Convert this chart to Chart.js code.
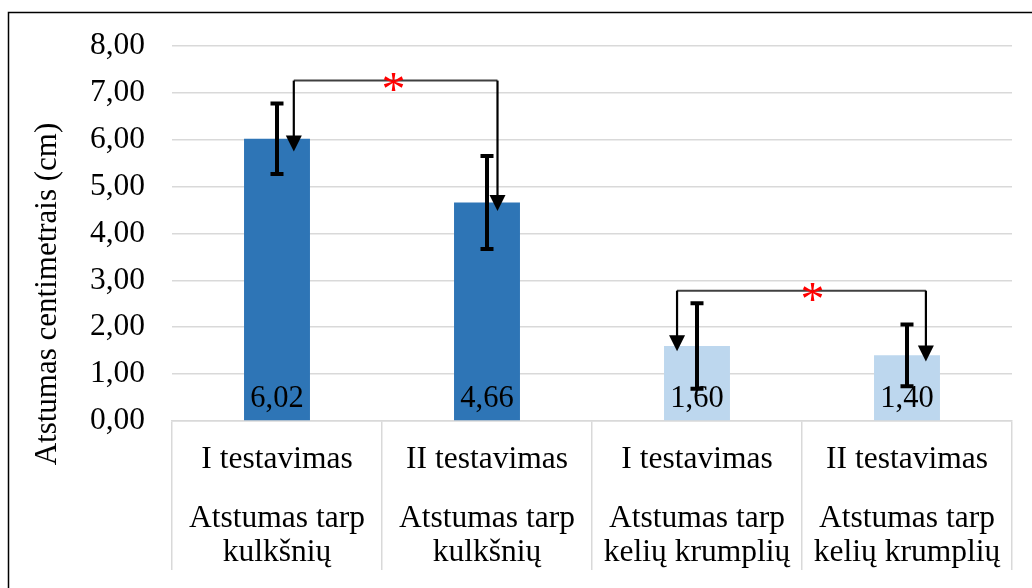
<!DOCTYPE html>
<html>
<head>
<meta charset="utf-8">
<script src="https://cdn.jsdelivr.net/npm/chart.js@4.4.1/dist/chart.umd.min.js"></script>
<style>
  html, body { margin: 0; padding: 0; background: #ffffff; }
  #wrap { position: relative; width: 1032px; height: 588px; }
</style>
</head>
<body>
<div id="wrap"><canvas id="chart"></canvas></div>
<script>
// Category labels (two levels)
const testLabels = ['I testavimas', 'II testavimas', 'I testavimas', 'II testavimas'];
const measureLabels = [
  ['Atstumas tarp', 'kulkšnių'],
  ['Atstumas tarp', 'kulkšnių'],
  ['Atstumas tarp', 'kelių krumplių'],
  ['Atstumas tarp', 'kelių krumplių']
];
// Means and standard deviations (cm)
const means = [6.02, 4.66, 1.60, 1.40];
const sd = [0.75, 0.99, 0.91, 0.66];
const barColors = ['#2E75B6', '#2E75B6', '#BDD7EE', '#BDD7EE'];
// Significant differences: compared bars, bracket height and arrow tips (cm)
const bracketPairs = [[0, 1], [2, 3]];
const bracketLevels = [7.26, 2.78];
const bracketTips = [[5.75, 4.48], [1.49, 1.27]];
const yAxisTitle = 'Atstumas centimetrais (cm)';

const SERIF = '"Liberation Serif", "Times New Roman", serif';
const fmt = v => v.toFixed(2).replace('.', ',');

// horizontal placement of the bracket legs / star, in category widths from the bar centre
const legShift = [[0.08, 0.05], [-0.095, 0.09]];
const starShift = [0.055, 0.05];

const overlay = {
  id: 'overlay',
  beforeDraw(chart) {
    const ctx = chart.ctx;
    ctx.save();
    ctx.strokeStyle = '#000';
    ctx.lineWidth = 1.5;
    ctx.beginPath();
    ctx.moveTo(8.5, chart.height);
    ctx.lineTo(8.5, 12.5);
    ctx.lineTo(chart.width, 12.5);
    ctx.stroke();
    ctx.restore();
  },
  afterDatasetsDraw(chart) {
    const { ctx, scales: { x, y } } = chart;
    const meta = chart.getDatasetMeta(0);
    const base = y.getPixelForValue(0);
    ctx.save();

    // value labels at the base of each bar
    ctx.font = '30.5px ' + SERIF;
    ctx.fillStyle = '#000';
    ctx.textAlign = 'center';
    ctx.textBaseline = 'alphabetic';
    meta.data.forEach((bar, i) => {
      ctx.fillText(fmt(means[i]), bar.x, base - 14);
    });

    // error bars (± SD)
    ctx.strokeStyle = '#000';
    ctx.lineWidth = 4;
    meta.data.forEach((bar, i) => {
      const top = y.getPixelForValue(means[i] + sd[i]);
      const bot = y.getPixelForValue(means[i] - sd[i]);
      ctx.beginPath();
      ctx.moveTo(bar.x, top); ctx.lineTo(bar.x, bot);
      ctx.moveTo(bar.x - 6.5, top); ctx.lineTo(bar.x + 6.5, top);
      ctx.moveTo(bar.x - 6.5, bot); ctx.lineTo(bar.x + 6.5, bot);
      ctx.stroke();
    });

    // significance brackets with arrows and star
    const cw = x.getPixelForValue(1) - x.getPixelForValue(0);
    bracketPairs.forEach((pair, k) => {
      const yl = y.getPixelForValue(bracketLevels[k]);
      const xs = pair.map((idx, j) => x.getPixelForValue(idx) + legShift[k][j] * cw);
      ctx.strokeStyle = '#404040';
      ctx.lineWidth = 2;
      ctx.beginPath();
      ctx.moveTo(xs[0], yl); ctx.lineTo(xs[1], yl);
      ctx.stroke();
      xs.forEach((xx, j) => {
        const tip = y.getPixelForValue(bracketTips[k][j]);
        ctx.strokeStyle = '#000';
        ctx.lineWidth = 2.2;
        ctx.beginPath();
        ctx.moveTo(xx, yl); ctx.lineTo(xx, tip - 14);
        ctx.stroke();
        ctx.fillStyle = '#000';
        ctx.beginPath();
        ctx.moveTo(xx - 8, tip - 16);
        ctx.lineTo(xx + 8, tip - 16);
        ctx.lineTo(xx, tip);
        ctx.closePath();
        ctx.fill();
      });
      const sx = (x.getPixelForValue(pair[0]) + x.getPixelForValue(pair[1])) / 2 + starShift[k] * cw;
      ctx.fillStyle = '#FF0000';
      ctx.font = '48px ' + SERIF;
      ctx.textAlign = 'center';
      ctx.textBaseline = 'alphabetic';
      ctx.fillText('*', sx, yl + 24);
    });
    ctx.restore();
  },
  afterDraw(chart) {
    const { ctx, scales: { x } } = chart;
    ctx.save();
    ctx.font = '31.5px ' + SERIF;
    ctx.fillStyle = '#000';
    ctx.textAlign = 'center';
    ctx.textBaseline = 'alphabetic';
    testLabels.forEach((lab, i) => {
      const cx = x.getPixelForValue(i);
      ctx.fillText(lab, cx, 468);
      ctx.fillText(measureLabels[i][0], cx, 527);
      ctx.fillText(measureLabels[i][1], cx, 561);
    });
    // vertical axis title
    ctx.translate(56, 294);
    ctx.rotate(-Math.PI / 2);
    ctx.font = '31px ' + SERIF;
    ctx.fillText(yAxisTitle, 0, 0);
    ctx.restore();
  }
};

new Chart(document.getElementById('chart'), {
  type: 'bar',
  data: {
    labels: testLabels,
    datasets: [{
      data: means,
      backgroundColor: barColors,
      borderWidth: 0,
      barPercentage: 0.314,
      categoryPercentage: 1.0
    }]
  },
  options: {
    responsive: true,
    maintainAspectRatio: false,
    animation: false,
    layout: { padding: { top: 44, right: 20, left: 0, bottom: 0 } },
    plugins: { legend: { display: false }, tooltip: { enabled: false } },
    scales: {
      x: {
        grid: {
          offset: true,
          drawOnChartArea: false,
          drawTicks: true,
          tickLength: 149,
          color: '#d9d9d9',
          lineWidth: 1.5
        },
        border: { display: true, color: '#d9d9d9', width: 1.5 },
        ticks: { display: false },
        afterFit(scale) { scale.height = 167; }
      },
      y: {
        min: 0,
        max: 8,
        ticks: {
          stepSize: 1,
          color: '#000',
          padding: 27,
          font: { family: SERIF, size: 31.5 },
          callback: v => fmt(v)
        },
        grid: { color: '#d9d9d9', lineWidth: 1.5, drawTicks: false },
        border: { display: false },
        afterFit(scale) { scale.width = 172; }
      }
    }
  },
  plugins: [overlay]
});
</script>
</body>
</html>
